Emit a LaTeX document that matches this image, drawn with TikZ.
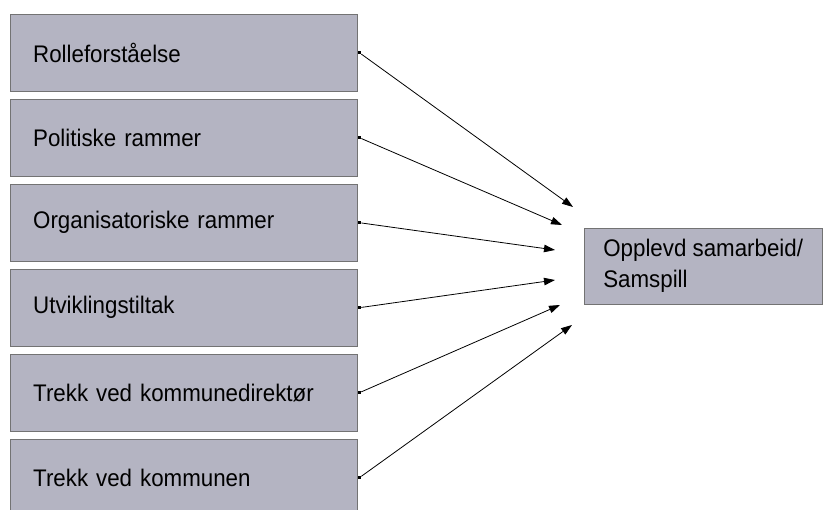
\documentclass[tikz,border=0pt]{standalone}
\usepackage{fontspec}
\setmainfont{Liberation Sans}[FakeStretch=0.93]
\usetikzlibrary{arrows.meta,positioning}
\definecolor{boksgraa}{RGB}{180,180,194}

\begin{document}
\begin{tikzpicture}[x=1pt,y=-1pt,
	boks/.style={draw=black!55,fill=boksgraa,minimum height=77pt,anchor=north west,font=\fontsize{24}{31}\selectfont},
	venstre/.style={boks,inner xsep=23pt,text width=301pt,align=left},
	prikk/.style={fill=black,inner sep=0pt,minimum size=3.5pt},
	pil/.style={-{Triangle[length=11pt,width=7.5pt]},line width=0.8pt}]

\clip (0,0) rectangle (823,510);

\foreach \navn [count=\i] in {Rolleforståelse,Politiske rammer,Organisatoriske rammer,Utviklingstiltak,Trekk ved kommunedirektør,Trekk ved kommunen} {
	\node[venstre] (b\i) at (10,{14+85*(\i-1)}) {\navn};
	\node[prikk] (p\i) at ([xshift=2pt]b\i.east) {};
}

\node[boks,align=left,minimum width=238pt,minimum height=76pt] (sam) at (584,228) {Opplevd samarbeid/\\Samspill};

% endepunkter for pilene
\coordinate (m1) at (573,207);
\coordinate (m2) at (562,225);
\coordinate (m3) at (555,250);
\coordinate (m4) at (555,280);
\coordinate (m5) at (560,305);
\coordinate (m6) at (572,325);

\foreach \i in {1,...,6}
	\draw[pil] (p\i) -- (m\i);

\end{tikzpicture}
\end{document}
